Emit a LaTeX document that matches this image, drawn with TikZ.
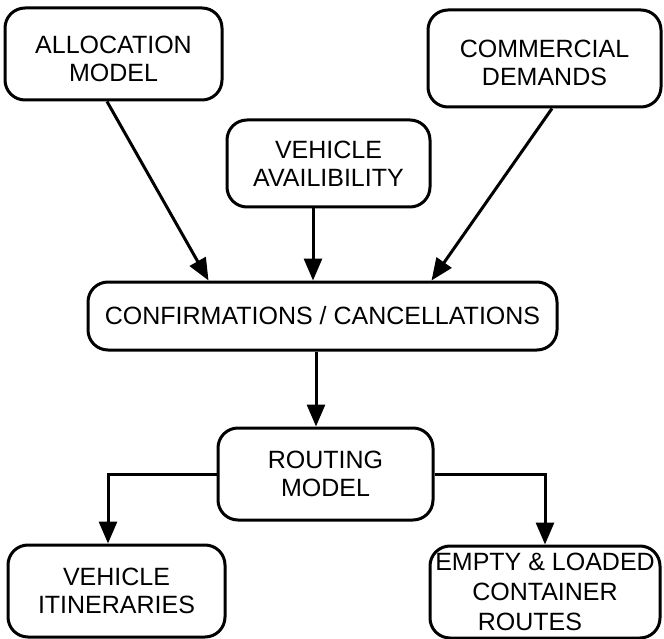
\documentclass[tikz,border=0pt]{standalone}
\usepackage{fontspec}
\setmainfont{Liberation Sans}
\usetikzlibrary{arrows.meta,calc}
\begin{document}
\begin{tikzpicture}[x=1pt,y=-1pt,
  box/.style={draw,line width=3pt,rounded corners=20pt,align=center,inner sep=0pt,
    font=\fontsize{25}{28}\selectfont},
  arr/.style={line width=3pt,-{Triangle[length=22pt,width=18pt]}}]
\useasboundingbox (0,0) rectangle (664,639);
\node[box,minimum width=217pt,minimum height=92pt] (alloc) at (113.5,54) {\rule{0pt}{28pt}ALLOCATION\\MODEL};
\node[box,minimum width=233pt,minimum height=97pt] (comm) at (544.5,58.5) {\rule{0pt}{27pt}COMMERCIAL\\DEMANDS};
\node[box,minimum width=203pt,minimum height=87pt] (veh) at (328.5,163.5) {VEHICLE\\AVAILIBILITY};
\node[box,minimum width=469pt,minimum height=68pt] (conf) at (322.5,316) {CONFIRMATIONS / CANCELLATIONS};
\node[box,minimum width=215pt,minimum height=92pt] (route) at (325.5,474) {ROUTING\\MODEL};
\node[box,minimum width=217pt,minimum height=92pt] (itin) at (116.5,591) {VEHICLE\\ITINERARIES};
\node[box,minimum width=230pt,minimum height=92pt,font=\fontsize{25}{30}\selectfont] (empty) at (545,592) {EMPTY \& LOADED\\CONTAINER\hspace*{30pt}\\ROUTES\hspace*{30pt}};
\draw[arr] ([xshift=-6.5pt]alloc.south) -- ([xshift=122pt]conf.north west);
\draw[arr] ([xshift=-15.5pt]veh.south) -- ([xshift=-15.5pt]veh.south |- conf.north);
\draw[arr] ([xshift=7.5pt]comm.south) -- ([xshift=-127pt]conf.north east);
\draw[arr] ([xshift=-6.5pt]conf.south) -- ([xshift=-6.5pt]conf.south |- route.north);
\draw[arr] (route.west) -| ([xshift=-8.5pt]itin.north);
\draw[arr] (route.east) -| (empty.north);
\end{tikzpicture}
\end{document}
